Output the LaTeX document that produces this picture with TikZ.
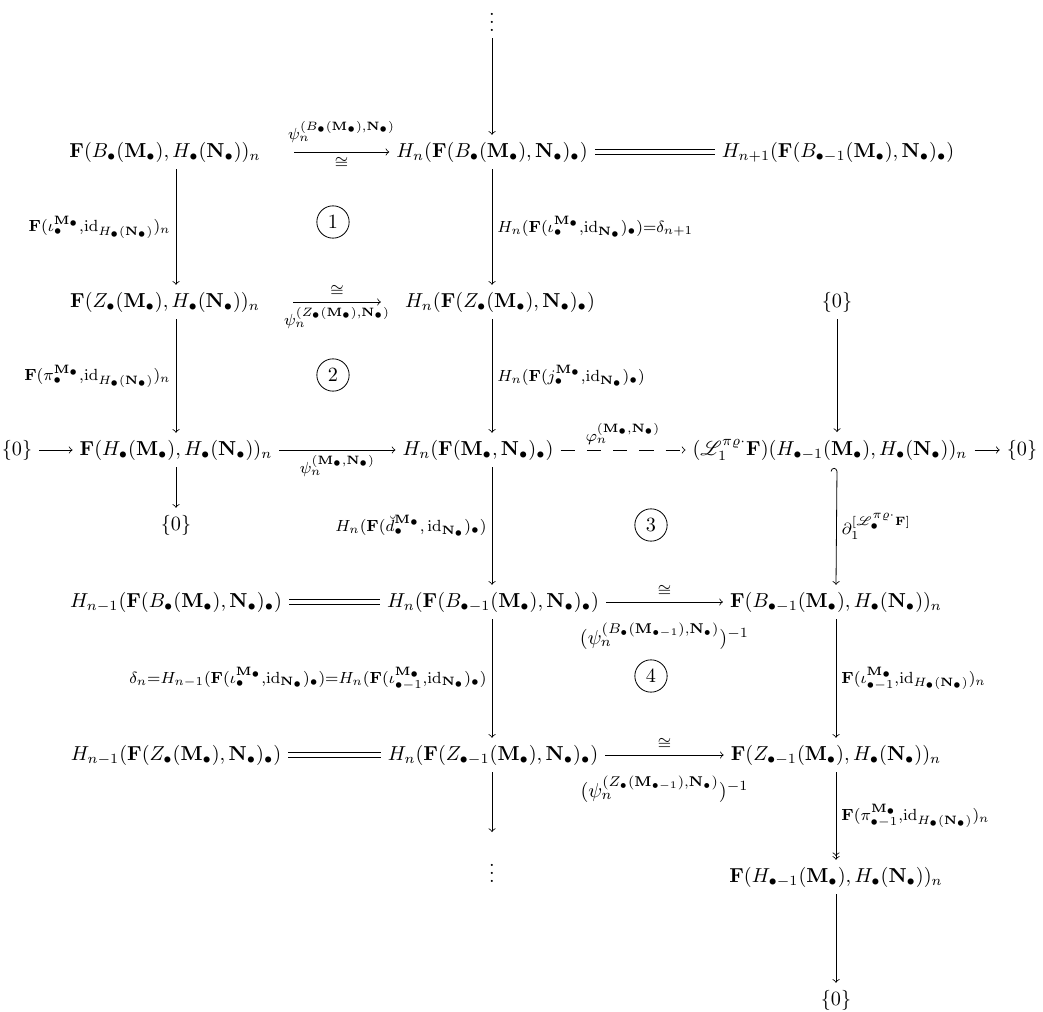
\documentclass[tikz,border=0pt]{standalone}
\usepackage{amsmath}
\usepackage{amssymb}
\usepackage{mathrsfs}
\usepackage{xcolor}
\usetikzlibrary{arrows,positioning}
\newcommand{\Mb}{\mathbf{M}_\bullet}
\newcommand{\Nb}{\mathbf{N}_\bullet}
\newcommand{\Fb}{\mathbf{F}}
\tikzset{
  cdarrow/.style={->},
  eqline/.style={double, double distance=1.8pt},
  dasharrow/.style={->, dash pattern=on 7pt off 6pt},
  circnum/.style={circle, draw, inner sep=0pt, minimum size=16pt},
  lbl/.style={font=\large, inner sep=2.5pt},
}
\begin{document}
\begin{tikzpicture}[x=0.495pt, y=-0.495pt, >=to]
    \useasboundingbox (0,0) rectangle (1043,1012);
    % top row
    \node (dtop) at (492,16) {$\vdots$};
    \node (fb) at (165,152) {$\Fb(B_\bullet(\Mb), H_\bullet(\Nb))_n$};
    \node (hb) at (492,152) {$H_n(\Fb(B_\bullet(\Mb), \Nb)_\bullet)$};
    \node (hbp) at (838,152) {$H_{n+1}(\Fb(B_{\bullet-1}(\Mb), \Nb)_\bullet)$};
    % second row
    \node (fz) at (165,302) {$\Fb(Z_\bullet(\Mb), H_\bullet(\Nb))_n$};
    \node (hz) at (500,302) {$H_n(\Fb(Z_\bullet(\Mb), \Nb)_\bullet)$};
    \node (zt) at (837,302) {$\{0\}$};
    % middle row
    \node (zl) at (17,450) {$\{0\}$};
    \node (fh) at (176,450) {$\Fb(H_\bullet(\Mb), H_\bullet(\Nb))_n$};
    \node (hm) at (478,450) {$H_n(\Fb(\Mb, \Nb)_\bullet)$};
    \node (lf) at (830,450)
      {$(\mathscr{L}^{\pi\varrho\cdot}_1\Fb)(H_{\bullet-1}(\Mb), H_\bullet(\Nb))_n$};
    \node (zr) at (1022,450) {$\{0\}$};
    \node (zb) at (176,525) {$\{0\}$};
    % lower rows
    \node (hbl) at (176,602) {$H_{n-1}(\Fb(B_\bullet(\Mb), \Nb)_\bullet)$};
    \node (hbm) at (493,602) {$H_n(\Fb(B_{\bullet-1}(\Mb), \Nb)_\bullet)$};
    \node (fbm) at (836,602) {$\Fb(B_{\bullet-1}(\Mb), H_\bullet(\Nb))_n$};
    \node (hzl) at (176,755) {$H_{n-1}(\Fb(Z_\bullet(\Mb), \Nb)_\bullet)$};
    \node (hzm) at (493,755) {$H_n(\Fb(Z_{\bullet-1}(\Mb), \Nb)_\bullet)$};
    \node (fzm) at (836,755) {$\Fb(Z_{\bullet-1}(\Mb), H_\bullet(\Nb))_n$};
    \coordinate (hend) at (492,832);
    \node (dbot) at (492,867) {$\vdots$};
    \node (fhm) at (836,877) {$\Fb(H_{\bullet-1}(\Mb), H_\bullet(\Nb))_n$};
    \node (zend) at (836,1000) {$\{0\}$};
    % circled numbers
    \node[circnum] (c1) at (333,222) {1};
    \node[circnum] (c2) at (333,375) {2};
    \node[circnum] (c3) at (651,525) {3};
    \node[circnum] (c4) at (651,676) {4};
    % horizontal arrows
    \draw[cdarrow] ([xshift=13pt]fb.east) -- (hb.west)
      node[lbl,midway,above=2pt] {$\scriptstyle\psi_n^{(B_\bullet(\Mb),\Nb)}$}
      node[lbl,midway,below] {$\scriptstyle\cong$};
    \draw[eqline] (hb) -- (hbp);
    \draw[cdarrow] ([xshift=13pt]fz.east) -- ([xshift=-8.5pt]hz.west)
      node[lbl,midway,above] {$\scriptstyle\cong$}
      node[lbl,midway,below] {$\scriptstyle\psi_n^{(Z_\bullet(\Mb),\Nb)}$};
    \draw[cdarrow] (zl) -- (fh);
    \draw[cdarrow] (fh) -- (hm)
      node[lbl,midway,below] {$\scriptstyle\psi_n^{(\Mb,\Nb)}$};
    \draw[dasharrow] (hm) -- (lf)
      node[lbl,midway,above] {$\scriptstyle\varphi_n^{(\Mb,\Nb)}$};
    \draw[cdarrow] (lf) -- (zr);
    \draw[eqline] (hbl) -- (hbm);
    \draw[cdarrow] (hbm) -- (fbm)
      node[lbl,midway,above] {$\scriptstyle\cong$}
      node[midway,below=7pt]
        {$(\psi_n^{(B_\bullet(\mathbf{M}_{\bullet-1}),\Nb)})^{-1}$};
    \draw[eqline] (hzl) -- (hzm);
    \draw[cdarrow] (hzm) -- (fzm)
      node[lbl,midway,above] {$\scriptstyle\cong$}
      node[midway,below=7pt]
        {$(\psi_n^{(Z_\bullet(\mathbf{M}_{\bullet-1}),\Nb)})^{-1}$};
    % left column
    \draw[cdarrow] (fb.south -| fh) -- (fz.north -| fh)
      node[lbl,midway,left]
        {$\scriptstyle\Fb(\iota^{\Mb}_\bullet,\mathrm{id}_{H_\bullet(\Nb)})_n$};
    \draw[cdarrow] (fz.south -| fh) -- (fh.north)
      node[lbl,midway,left]
        {$\scriptstyle\Fb(\pi^{\Mb}_\bullet,\mathrm{id}_{H_\bullet(\Nb)})_n$};
    \draw[cdarrow] (fh) -- (zb);
    % middle column
    \draw[cdarrow] (dtop) -- (hb);
    \draw[cdarrow] (hb.south) -- (hz.north -| hb)
      node[lbl,midway,right]
        {$\scriptstyle H_n(\Fb(\iota^{\Mb}_\bullet,\mathrm{id}_{\Nb})_\bullet)=\delta_{n+1}$};
    \draw[cdarrow] (hz.south -| hb) -- (hm.north -| hb)
      node[lbl,midway,right]
        {$\scriptstyle H_n(\Fb(j^{\Mb}_\bullet,\mathrm{id}_{\Nb})_\bullet)$};
    \draw[cdarrow] (hm.south -| hb) -- (hbm.north -| hb)
      node[lbl,midway,left]
        {$\scriptstyle H_n(\Fb(\breve{d}^{\Mb}_\bullet,\,\mathrm{id}_{\Nb})_\bullet)$};
    \draw[cdarrow] (hbm.south -| hb) -- (hzm.north -| hb)
      node[lbl,midway,left]
        {$\scriptstyle\delta_n=H_{n-1}(\Fb(\iota^{\Mb}_\bullet,\mathrm{id}_{\Nb})_\bullet)
          =H_n(\Fb(\iota^{\Mb}_{\bullet-1},\mathrm{id}_{\Nb})_\bullet)$};
    \draw[cdarrow] (hzm.south -| hb) -- (hend);
    % right column
    \draw[cdarrow] (zt) -- (zt |- lf.north);
    \draw[left hook->] (lf.south -| zt) -- (fbm.north)
      node[lbl,midway,right] {$\scriptstyle\partial_1^{[\mathscr{L}^{\pi\varrho\cdot}_\bullet\Fb]}$};
    \draw[cdarrow] (fbm) -- (fzm)
      node[lbl,midway,right]
        {$\scriptstyle\Fb(\iota^{\Mb}_{\bullet-1},\mathrm{id}_{H_\bullet(\Nb)})_n$};
    \draw[->>] (fzm) -- (fhm)
      node[lbl,midway,right]
        {$\scriptstyle\Fb(\pi^{\Mb}_{\bullet-1},\mathrm{id}_{H_\bullet(\Nb)})_n$};
    \draw[cdarrow] (fhm) -- (zend);
  \end{tikzpicture}
\end{document}
